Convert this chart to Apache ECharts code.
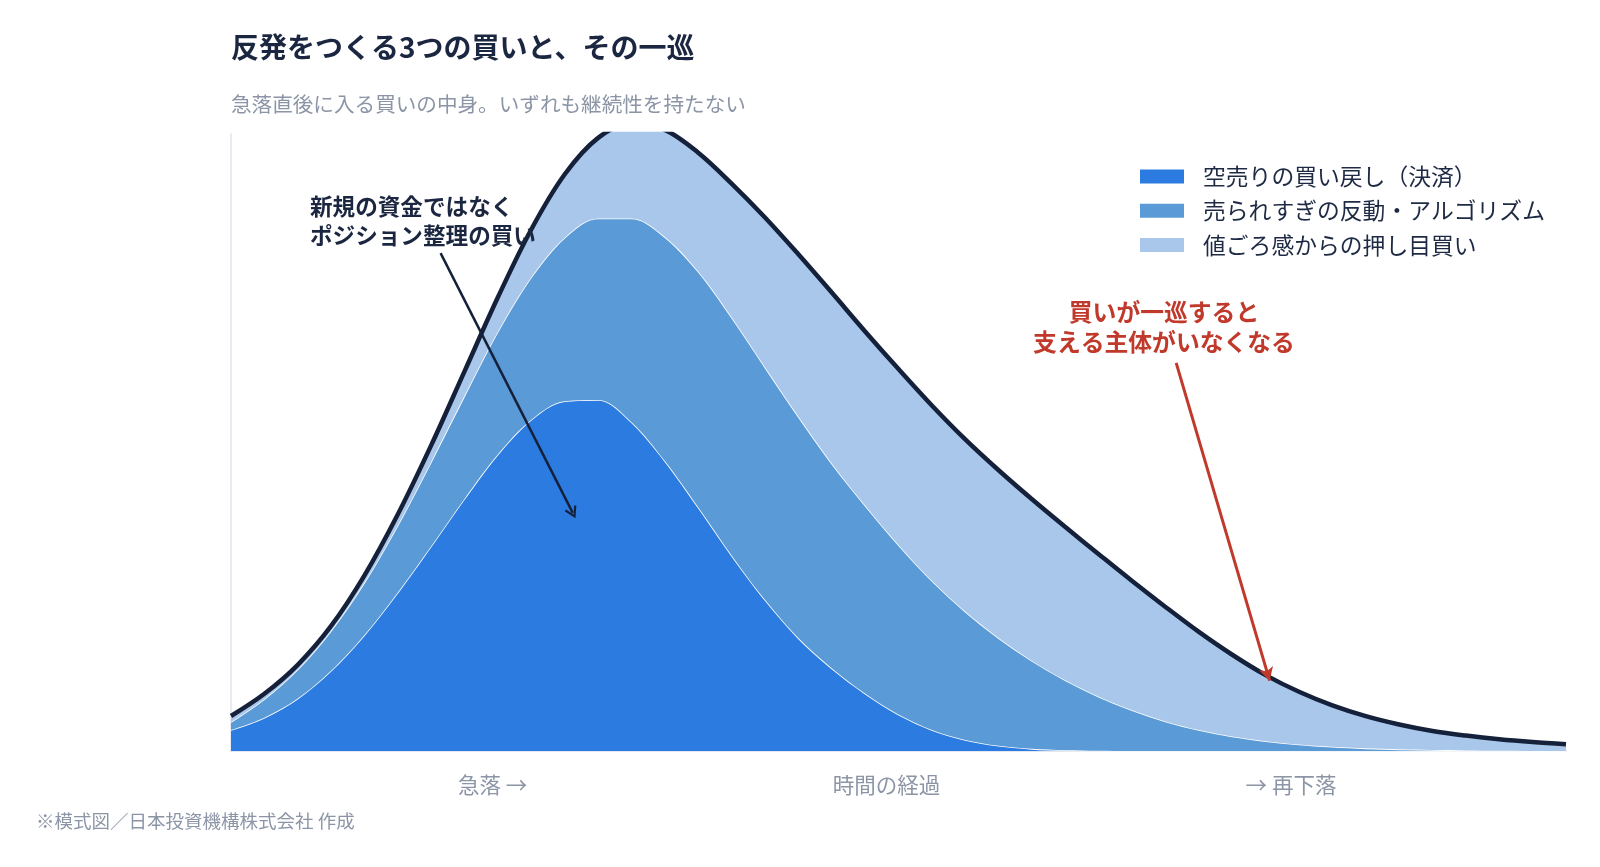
<!DOCTYPE html>
<html><head><meta charset="utf-8">
<script src="https://cdn.jsdelivr.net/npm/echarts@6/dist/echarts.min.js"></script>
<style>html,body{margin:0;padding:0;background:#fff}#c{width:1600px;height:867px}</style>
</head><body><div id="c"></div>
<script>
// ---- data (time steps 0..100, stacked buying volume) ----
const xValues = [0,2.5,5,7.5,10,12.5,15,17.5,20,22.5,25,27.5,30,32.5,35,37.5,40,42.5,45,47.5,50,
                 52.5,55,57.5,60,62.5,65,67.5,70,72.5,75,77.5,80,82.5,85,87.5,90,92.5,95,97.5,100];
const shortCovering = [3.4,5.4,8.5,13.0,18.8,25.7,33.2,40.9,48.1,53.7,56.7,56.9,53.3,47.0,39.5,31.7,24.5,18.3,13.4,9.3,5.9,
                       3.4,1.8,0.85,0.35,0.12,0.03,0,0,0,0,0,0,0,0,0,0,0,0,0,0];
const reboundAlgo   = [1.3,3.0,4.7,6.5,8.5,10.9,13.7,16.7,19.9,23.1,26.5,29.4,33.0,36.3,38.2,38.6,37.7,35.9,33.2,30.5,27.5,
                       24.2,20.8,17.45,14.25,11.33,8.77,6.6,4.8,3.4,2.35,1.6,1.05,0.68,0.43,0.27,0.16,0.09,0.05,0.02,0];
const bargainBuying = [0.97,0.87,0.77,0.77,1.17,1.77,2.67,3.97,5.57,7.77,10.27,13.07,15.47,17.37,19.27,21.67,24.27,26.3,27.7,28.2,28.5,
                       28.4,27.9,27.2,26.2,24.85,23.1,20.95,18.55,15.9,13.25,10.7,8.55,6.72,5.22,4.03,3.09,2.41,1.85,1.43,1.1];
const seriesNames = ['空売りの買い戻し（決済）','売られすぎの反動・アルゴリズム','値ごろ感からの押し目買い'];
const xLabelPos = [19.6, 49.1, 79.4];
const xLabels = ['急落 →','時間の経過','→ 再下落'];
const arrowDark = [[15.7, 80.7],[25.6, 38.6]];
const arrowRed = [[70.8, 62.9],[77.8, 11.4]];

const colors = ['#2c7be0','#5a9ad6','#a9c7ea'];
const FONT = '"Noto Sans CJK JP","Noto Sans",sans-serif';
const chevron = 'path://M6,0 L12,10.5 L10.2,11.5 L6,4 L1.8,11.5 L0,10.5 Z';

const chart = echarts.init(document.getElementById('c'), null, {renderer:'canvas'});
chart.setOption({
  animation:false,
  backgroundColor:'#ffffff',
  textStyle:{fontFamily:FONT},
  title:[
    {text:'反発をつくる3つの買いと、その一巡', left:231, top:33, padding:0,
     textStyle:{fontSize:28, fontWeight:'bold', color:'#1b2640', fontFamily:FONT}},
    {text:'急落直後に入る買いの中身。いずれも継続性を持たない', left:231, top:94, padding:0,
     textStyle:{fontSize:20.6, fontWeight:'normal', color:'#8c95a6', fontFamily:FONT}},
    {text:'※模式図／日本投資機構株式会社 作成', left:36, top:812, padding:0,
     textStyle:{fontSize:18.5, fontWeight:'normal', color:'#8c95a6', fontFamily:FONT}}
  ],
  legend:{
    orient:'vertical', left:1140, top:165, padding:0, itemWidth:44, itemHeight:14, itemGap:11.5,
    icon:'rect',
    formatter:'{a|{name}}',
    textStyle:{fontSize:22.8, color:'#1e2a44', fontFamily:FONT,
      rich:{a:{fontSize:22.8, lineHeight:23, color:'#1e2a44', fontFamily:FONT, padding:[0,0,0,14]}}},
    data:seriesNames.map((n,i)=>({name:n, itemStyle:{color:colors[i], borderWidth:0}}))
  },
  grid:{left:231, right:34, top:134, bottom:116, containLabel:false},
  xAxis:[{
    type:'category', data:xValues, boundaryGap:false,
    axisLine:{show:true, lineStyle:{color:'#e3e8f0', width:2}},
    axisTick:{show:false}, splitLine:{show:false}, axisLabel:{show:false}
  },{
    type:'value', min:0, max:100, position:'bottom',
    axisLine:{show:false}, axisTick:{show:false}, splitLine:{show:false},
    axisLabel:{customValues:xLabelPos, margin:23, fontSize:21.5, color:'#8c95a6', fontFamily:FONT,
      formatter:(v)=>{const i=xLabelPos.indexOf(v); return i>=0?xLabels[i]:'';}}
  }],
  yAxis:{
    type:'value', min:0, max:100,
    axisLine:{show:true, lineStyle:{color:'#e8ebf2', width:2}},
    axisTick:{show:false}, axisLabel:{show:false}, splitLine:{show:false}
  },
  series:[
    {name:seriesNames[0], type:'line', stack:'total', smooth:0.35, showSymbol:false,
     data:shortCovering, itemStyle:{color:colors[0]},
     lineStyle:{color:'#ffffff', width:1.6}, areaStyle:{color:colors[0], opacity:1}, z:2},
    {name:seriesNames[1], type:'line', stack:'total', smooth:0.35, showSymbol:false,
     data:reboundAlgo, itemStyle:{color:colors[1]},
     lineStyle:{color:'#ffffff', width:1.6}, areaStyle:{color:colors[1], opacity:1}, z:3},
    {name:seriesNames[2], type:'line', stack:'total', smooth:0.35, showSymbol:false,
     data:bargainBuying, itemStyle:{color:colors[2]},
     lineStyle:{color:'#15213b', width:4.5}, areaStyle:{color:colors[2], opacity:1}, z:4},
    {name:'annotations', type:'line', xAxisIndex:1, data:[], z:5, silent:true,
     markLine:{silent:true, symbol:['none','arrow'], symbolSize:[10,12], label:{show:false},
       data:[
         [{coord:arrowDark[0], lineStyle:{color:'#15213b', width:2.5, type:'solid'}},
          {coord:arrowDark[1], symbol:chevron, symbolSize:[13,12], itemStyle:{color:'#15213b'}}],
         [{coord:arrowRed[0], lineStyle:{color:'#c0392b', width:3, type:'solid'}},
          {coord:arrowRed[1], symbol:'arrow', symbolSize:[11,13], itemStyle:{color:'#c0392b'}}]
       ]}
    }
  ],
  graphic:[
    {type:'text', left:310, top:192, z:100,
     style:{text:'新規の資金ではなく\nポジション整理の買い', fontSize:22.6, fontWeight:'bold', lineHeight:29,
       fill:'#1b2640', fontFamily:FONT}},
    {type:'text', x:1164, y:297, z:100,
     style:{text:'買いが一巡すると\n支える主体がいなくなる', fontSize:23.8, fontWeight:'bold', lineHeight:30,
       fill:'#c0392b', align:'center', fontFamily:FONT}}
  ]
});
</script></body></html>
